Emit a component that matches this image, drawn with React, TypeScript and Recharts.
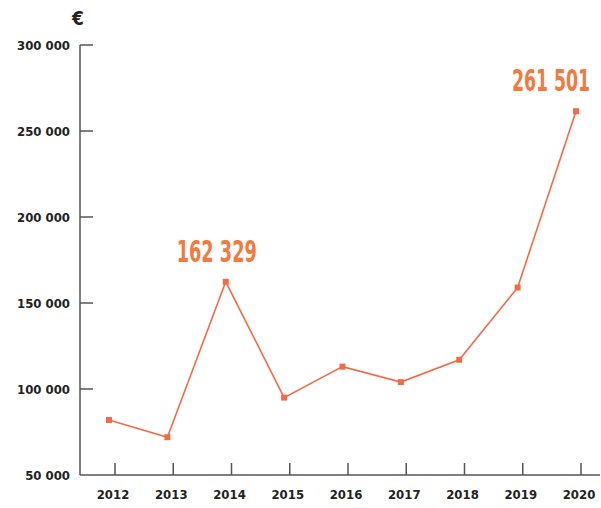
import React from 'react';
import { LineChart, Line, XAxis, YAxis, LabelList } from 'recharts';

const years = ['2012', '2013', '2014', '2015', '2016', '2017', '2018', '2019', '2020'];
const values = [82000, 72000, 162329, 95000, 113000, 104000, 117000, 159000, 261501];
const valueLabels = ['', '', '162 329', '', '', '', '', '', '261 501'];
const yTicks = [50000, 100000, 150000, 200000, 250000, 300000];

const data = years.map((y, i) => ({ year: y, value: values[i], label: valueLabels[i] }));

const fmt = (v: number) => {
  const s = String(v);
  return s.replace(/\B(?=(\d{3})+(?!\d))/g, ' ');
};

const LINE = '#f26b48';
const LABEL = '#f07a40';
const AXIS = '#555';
const FONT = '"DejaVu Sans Condensed", "DejaVu Sans", sans-serif';

const YTick = (props: any) => {
  const { y, payload } = props;
  return (
    <g>
      {payload.value !== 50000 && (
        <line x1={80} x2={93} y1={y} y2={y} stroke={AXIS} strokeWidth={1.5} />
      )}
      <text x={70} y={y} dy={4.5} textAnchor="end" fontFamily={FONT} fontWeight="bold" fontSize={13} fill="#222">
        {fmt(payload.value)}
      </text>
    </g>
  );
};

const XTick = (props: any) => {
  const { x, payload } = props;
  return (
    <g>
      <line x1={x} x2={x} y1={475} y2={463} stroke={AXIS} strokeWidth={1.5} />
      <text x={x - 2} y={499} textAnchor="middle" fontFamily={FONT} fontWeight="bold" fontSize={13} fill="#222">
        {payload.value}
      </text>
    </g>
  );
};

const ValueLabel = (props: any) => {
  const { x, y, value, index } = props;
  if (!value) return null;
  const dx = index === data.length - 1 ? -25 : -9;
  return (
    <text
      x={x + dx}
      y={y - 20}
      textAnchor="middle"
      fontFamily={FONT}
      fontWeight="bold"
      fontSize={30}
      fill={LABEL}
      textLength={index === data.length - 1 ? 78 : 80}
      lengthAdjust="spacingAndGlyphs"
    >
      {value}
    </text>
  );
};

const SquareDot = (props: any) => {
  const { cx, cy } = props;
  return <rect x={cx - 3} y={cy - 3} width={6} height={6} fill={LINE} />;
};

export default function App() {
  return (
    <div style={{ position: 'absolute', left: 0, top: 0, width: 601, height: 508, background: '#fff' }}>
      <div
        style={{
          position: 'absolute',
          left: 72,
          top: 9,
          fontFamily: FONT,
          fontWeight: 'bold',
          fontSize: 19,
          color: '#222',
          lineHeight: 1,
        }}
      >
        €
      </div>
      <LineChart width={601} height={508} data={data} margin={{ top: 45, right: 1, bottom: 0, left: 0 }}>
        <XAxis
          xAxisId="ticks"
          dataKey="year"
          type="category"
          height={33}
          padding={{ left: 35, right: 19 }}
          axisLine={{ stroke: AXIS, strokeWidth: 1.5 }}
          tickLine={false}
          tick={<XTick />}
          interval={0}
        />
        <XAxis
          xAxisId="line"
          dataKey="year"
          type="category"
          height={0}
          hide
          padding={{ left: 29, right: 24 }}
        />
        <YAxis
          yAxisId="y"
          type="number"
          domain={[50000, 300000]}
          ticks={yTicks}
          interval={0}
          width={80}
          axisLine={{ stroke: AXIS, strokeWidth: 1.5 }}
          tickLine={false}
          tick={<YTick />}
        />
        <Line
          xAxisId="line"
          yAxisId="y"
          dataKey="value"
          type="linear"
          stroke={LINE}
          strokeWidth={1.6}
          dot={<SquareDot />}
          activeDot={false}
          isAnimationActive={false}
        >
          <LabelList dataKey="label" content={<ValueLabel />} />
        </Line>
      </LineChart>
    </div>
  );
}
